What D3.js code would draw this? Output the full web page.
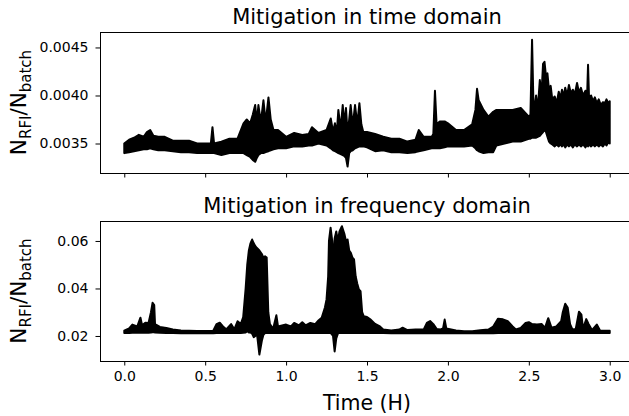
<!DOCTYPE html>
<html><head><meta charset="utf-8">
<script src="https://cdn.jsdelivr.net/npm/d3@7"></script>
<style>
html,body{margin:0;padding:0;background:#fff;}
text{font-family:"DejaVu Sans",sans-serif;fill:#000;}
</style></head>
<body><svg id="c" width="629" height="416"></svg>
<script>
// ---------------- data ----------------
const xTickValues = [0, 0.5, 1.0, 1.5, 2.0, 2.5, 3.0];
const yTicksTop = [0.0035, 0.0040, 0.0045];
const yTicksBot = [0.02, 0.04, 0.06];
const titleTop = "Mitigation in time domain";
const titleBot = "Mitigation in frequency domain";
const xLabel = "Time (H)";

// time-domain series: time (hours), upper and lower envelope of the noisy trace
const timeTop = [0.00,0.03,0.06,0.09,0.12,0.14,0.16,0.18,0.21,0.25,0.30,0.35,0.40,0.45,0.50,0.535,0.545,0.555,0.60,0.65,0.70,
0.737,0.757,0.778,0.794,0.809,0.819,0.829,0.844,0.860,0.874,0.891,0.905,0.922,0.95,1.00,1.05,1.10,1.14,1.16,1.20,1.25,
1.276,1.29,1.302,1.313,1.323,1.337,1.350,1.360,1.370,1.380,1.390,1.399,1.412,1.426,1.44,1.453,1.465,1.477,1.50,1.55,
1.60,1.65,1.70,1.75,1.80,1.82,1.85,1.90,1.91,1.92,1.93,1.95,1.98,2.00,2.05,2.10,2.15,2.17,2.18,2.19,2.22,2.25,2.28,2.30,2.35,2.40,2.45,2.50,2.51,2.52,
2.53,2.545,2.555,2.568,2.578,2.588,2.597,2.606,2.615,2.625,2.635,2.645,2.660,2.672,2.685,2.695,2.705,2.715,2.725,2.737,2.748,2.760,2.772,2.784,2.798,2.810,2.822,2.835,2.850,2.860,2.866,2.872,2.885,2.897,2.908,2.920,2.932,2.945,2.958,2.970,2.980,2.990,3.000];
const upperTop = [0.00350,0.00354,0.00356,0.00359,0.00357,0.00362,0.00364,0.00358,0.00357,0.00357,0.00353,0.00353,0.00353,0.00350,0.00350,0.00350,0.00367,0.00350,0.00352,0.00355,0.00355,
0.00371,0.00375,0.00371,0.00380,0.00390,0.00372,0.00390,0.00372,0.00395,0.00372,0.00398,0.00375,0.00364,0.00364,0.00357,0.00361,0.00359,0.00360,0.00367,0.00361,0.00364,
0.00376,0.00362,0.00371,0.00360,0.00385,0.00365,0.00390,0.00370,0.00387,0.00360,0.00375,0.00390,0.00368,0.00390,0.00370,0.00392,0.00370,0.00362,0.00362,0.00360,
0.00357,0.00355,0.00355,0.00352,0.00354,0.00364,0.00357,0.00357,0.00360,0.00405,0.00370,0.00373,0.00373,0.00371,0.00364,0.00364,0.00370,0.00385,0.00407,0.00395,0.00385,0.00378,0.00383,0.00385,0.00385,0.00385,0.00387,0.00378,0.00380,0.00458,
0.00380,0.00400,0.00385,0.00416,0.00400,0.00433,0.00435,0.00420,0.00423,0.00405,0.00410,0.00396,0.00399,0.00392,0.00404,0.00397,0.00406,0.00399,0.00408,0.00400,0.00411,0.00402,0.00406,0.00401,0.00413,0.00403,0.00408,0.00400,0.00405,0.00398,0.00432,0.00398,0.00400,0.00394,0.00398,0.00392,0.00396,0.00390,0.00393,0.00392,0.00396,0.00392,0.00394];
const lowerTop = [0.00340,0.00341,0.00342,0.00343,0.00344,0.00344,0.00345,0.00344,0.00343,0.00343,0.00342,0.00341,0.00341,0.00340,0.00340,0.00340,0.00340,0.00340,0.00338,0.00340,0.00340,
0.00340,0.00338,0.00336,0.00333,0.00331,0.00335,0.00338,0.00340,0.00340,0.00341,0.00342,0.00343,0.00344,0.00345,0.00345,0.00347,0.00347,0.00348,0.00348,0.00350,0.00348,
0.00345,0.00343,0.00342,0.00341,0.00340,0.00339,0.00338,0.00337,0.00335,0.00326,0.00340,0.00342,0.00343,0.00345,0.00346,0.00347,0.00347,0.00347,0.00346,0.00342,
0.00343,0.00341,0.00341,0.00340,0.00341,0.00342,0.00343,0.00345,0.00345,0.00345,0.00345,0.00345,0.00346,0.00347,0.00347,0.00347,0.00348,0.00345,0.00343,0.00342,0.00340,0.00341,0.00341,0.00348,0.00350,0.00352,0.00352,0.00355,0.00355,0.00356,
0.00356,0.00356,0.00357,0.00358,0.00360,0.00362,0.00364,0.00362,0.00357,0.00352,0.00350,0.00349,0.00347,0.00349,0.00347,0.00349,0.00347,0.00349,0.00346,0.00349,0.00347,0.00349,0.00346,0.00349,0.00347,0.00349,0.00347,0.00349,0.00346,0.00349,0.00347,0.00349,0.00347,0.00349,0.00347,0.00349,0.00347,0.00349,0.00347,0.00350,0.00348,0.00351,0.00350];

// frequency-domain series
const timeBot = [0.00,0.03,0.05,0.08,0.10,0.11,0.13,0.15,0.165,0.175,0.185,0.19,0.22,0.26,0.30,0.35,0.40,0.45,0.50,0.55,0.57,0.59,0.61,0.63,0.66,0.68,0.70,0.72,0.735,0.75,0.76,0.77,0.78,0.79,0.80,0.81,0.82,0.835,0.85,0.86,0.87,0.88,0.89,0.90,0.92,0.94,0.95,1.00,1.03,1.05,1.08,1.10,1.12,1.15,1.18,1.20,1.22,1.24,1.25,1.26,1.265,1.275,1.285,1.29,1.30,1.31,1.32,1.33,1.345,1.36,1.37,1.38,1.39,1.40,1.41,1.42,1.43,1.44,1.45,1.46,1.47,1.48,1.50,1.52,1.55,1.58,1.60,1.65,1.70,1.72,1.75,1.80,1.85,1.87,1.89,1.91,1.93,1.95,1.97,1.98,1.99,2.05,2.10,2.15,2.20,2.25,2.28,2.31,2.34,2.37,2.40,2.42,2.45,2.48,2.50,2.52,2.55,2.58,2.60,2.62,2.64,2.67,2.70,2.71,2.725,2.74,2.755,2.77,2.79,2.81,2.825,2.835,2.855,2.87,2.89,2.92,2.94,3.00];
const upperBot = [0.0222,0.0232,0.0248,0.0240,0.0277,0.0245,0.0256,0.0255,0.0300,0.0340,0.0330,0.0250,0.0238,0.0234,0.0227,0.0223,0.0222,0.0221,0.0221,0.0222,0.0250,0.0256,0.0240,0.0228,0.0250,0.0228,0.0262,0.0250,0.0280,0.0400,0.0500,0.0560,0.0590,0.0606,0.0590,0.0578,0.0570,0.0560,0.0545,0.0530,0.0535,0.0530,0.0300,0.0250,0.0230,0.0287,0.0240,0.0248,0.0240,0.0255,0.0245,0.0258,0.0245,0.0255,0.0250,0.0265,0.0277,0.0320,0.0354,0.0450,0.0600,0.0656,0.0600,0.0500,0.0610,0.0640,0.0600,0.0640,0.0662,0.0630,0.0600,0.0606,0.0560,0.0550,0.0530,0.0522,0.0450,0.0420,0.0396,0.0389,0.0300,0.0283,0.0280,0.0270,0.0251,0.0240,0.0227,0.0223,0.0227,0.0235,0.0225,0.0227,0.0227,0.0255,0.0263,0.0250,0.0230,0.0227,0.0232,0.0269,0.0232,0.0223,0.0220,0.0220,0.0224,0.0227,0.0240,0.0273,0.0270,0.0262,0.0240,0.0227,0.0234,0.0255,0.0258,0.0250,0.0248,0.0250,0.0234,0.0275,0.0235,0.0240,0.0262,0.0300,0.0336,0.0320,0.0250,0.0227,0.0230,0.0302,0.0290,0.0230,0.0271,0.0250,0.0225,0.0248,0.0223,0.0222];
const lowerBot = [0.0213,0.0213,0.0214,0.0214,0.0214,0.0214,0.0214,0.0214,0.0215,0.0216,0.0216,0.0215,0.0214,0.0213,0.0213,0.0212,0.0212,0.0212,0.0212,0.0212,0.0213,0.0213,0.0213,0.0213,0.0213,0.0213,0.0213,0.0213,0.0214,0.0215,0.0220,0.0215,0.0215,0.0210,0.0195,0.0200,0.0210,0.0122,0.0180,0.0205,0.0212,0.0213,0.0213,0.0213,0.0213,0.0213,0.0213,0.0213,0.0213,0.0213,0.0213,0.0213,0.0213,0.0213,0.0213,0.0213,0.0213,0.0213,0.0213,0.0213,0.0213,0.0213,0.0205,0.0200,0.0135,0.0190,0.0210,0.0213,0.0213,0.0213,0.0213,0.0213,0.0213,0.0213,0.0213,0.0213,0.0213,0.0213,0.0213,0.0213,0.0213,0.0213,0.0213,0.0213,0.0213,0.0213,0.0213,0.0212,0.0212,0.0212,0.0212,0.0212,0.0212,0.0212,0.0212,0.0212,0.0212,0.0212,0.0212,0.0212,0.0212,0.0212,0.0212,0.0212,0.0212,0.0212,0.0212,0.0213,0.0213,0.0213,0.0213,0.0213,0.0213,0.0213,0.0213,0.0213,0.0213,0.0213,0.0213,0.0213,0.0213,0.0213,0.0213,0.0213,0.0213,0.0213,0.0213,0.0213,0.0213,0.0213,0.0213,0.0213,0.0213,0.0213,0.0213,0.0213,0.0213,0.0213];

// ---------------- drawing ----------------
const svg = d3.select("#c");
const left = 100, right = 634;
const x = d3.scaleLinear().domain([-0.15, 3.15]).range([left, right]);

const panels = [
  {top: 32, bottom: 173, domain: [0.003193, 0.004661], ticks: yTicksTop, fmt: d3.format(".4f"),
   t: timeTop, hi: upperTop, lo: lowerTop, title: titleTop, xlabels: false},
  {top: 221, bottom: 361, domain: [0.00947, 0.0684], ticks: yTicksBot, fmt: d3.format(".2f"),
   t: timeBot, hi: upperBot, lo: lowerBot, title: titleBot, xlabels: true}
];

panels.forEach((p, pi) => {
  const y = d3.scaleLinear().domain(p.domain).range([p.bottom, p.top]);
  const g = svg.append("g");
  const clipId = "clip" + pi;
  svg.append("clipPath").attr("id", clipId).append("rect")
    .attr("x", left).attr("y", p.top).attr("width", right - left).attr("height", p.bottom - p.top);

  const idx = d3.range(p.t.length);
  const area = d3.area().x(i => x(p.t[i])).y0(i => y(p.lo[i])).y1(i => y(p.hi[i]));
  g.append("path").attr("clip-path", `url(#${clipId})`)
    .attr("d", area(idx)).attr("fill", "#000").attr("stroke", "#000")
    .attr("stroke-width", 2).attr("stroke-linejoin", "round");

  // y axis
  const ya = g.append("g").attr("transform", `translate(${left},0)`)
    .call(d3.axisLeft(y).tickValues(p.ticks).tickFormat(p.fmt).tickSize(4.5).tickPadding(7));
  ya.select(".domain").remove();
  ya.selectAll(".tick line").attr("stroke", "#000").attr("stroke-width", 1);
  ya.selectAll(".tick text").attr("font-size", 14).attr("font-family", "DejaVu Sans").attr("fill", "#000");

  // x axis
  const xa = g.append("g").attr("transform", `translate(0,${p.bottom})`)
    .call(d3.axisBottom(x).tickValues(xTickValues).tickFormat(p.xlabels ? d3.format(".1f") : () => "").tickSize(4.5).tickPadding(6));
  xa.select(".domain").remove();
  xa.selectAll(".tick line").attr("stroke", "#000").attr("stroke-width", 1);
  xa.selectAll(".tick text").attr("font-size", 14).attr("font-family", "DejaVu Sans").attr("fill", "#000");

  // spines
  g.append("rect").attr("x", left + 0.5).attr("y", p.top + 0.5)
    .attr("width", right - left).attr("height", p.bottom - p.top)
    .attr("fill", "none").attr("stroke", "#000").attr("stroke-width", 1);

  // title
  g.append("text").attr("x", (left + right) / 2).attr("y", p.top - 8)
    .attr("text-anchor", "middle").attr("font-size", 21).text(p.title);

  // y label
  const cy = (p.top + p.bottom) / 2;
  const lab = g.append("text").attr("transform", `translate(26,${cy}) rotate(-90)`)
    .attr("text-anchor", "middle").attr("font-size", 21.5);
  lab.append("tspan").text("N");
  lab.append("tspan").attr("font-size", 15).attr("dy", 4.5).text("RFI");
  lab.append("tspan").attr("dy", -4.5).text("/N");
  lab.append("tspan").attr("font-size", 15).attr("dy", 4.5).text("batch");
});

svg.append("text").attr("x", (left + right) / 2).attr("y", 410)
  .attr("text-anchor", "middle").attr("font-size", 20.5).text(xLabel);
</script>
</body></html>
